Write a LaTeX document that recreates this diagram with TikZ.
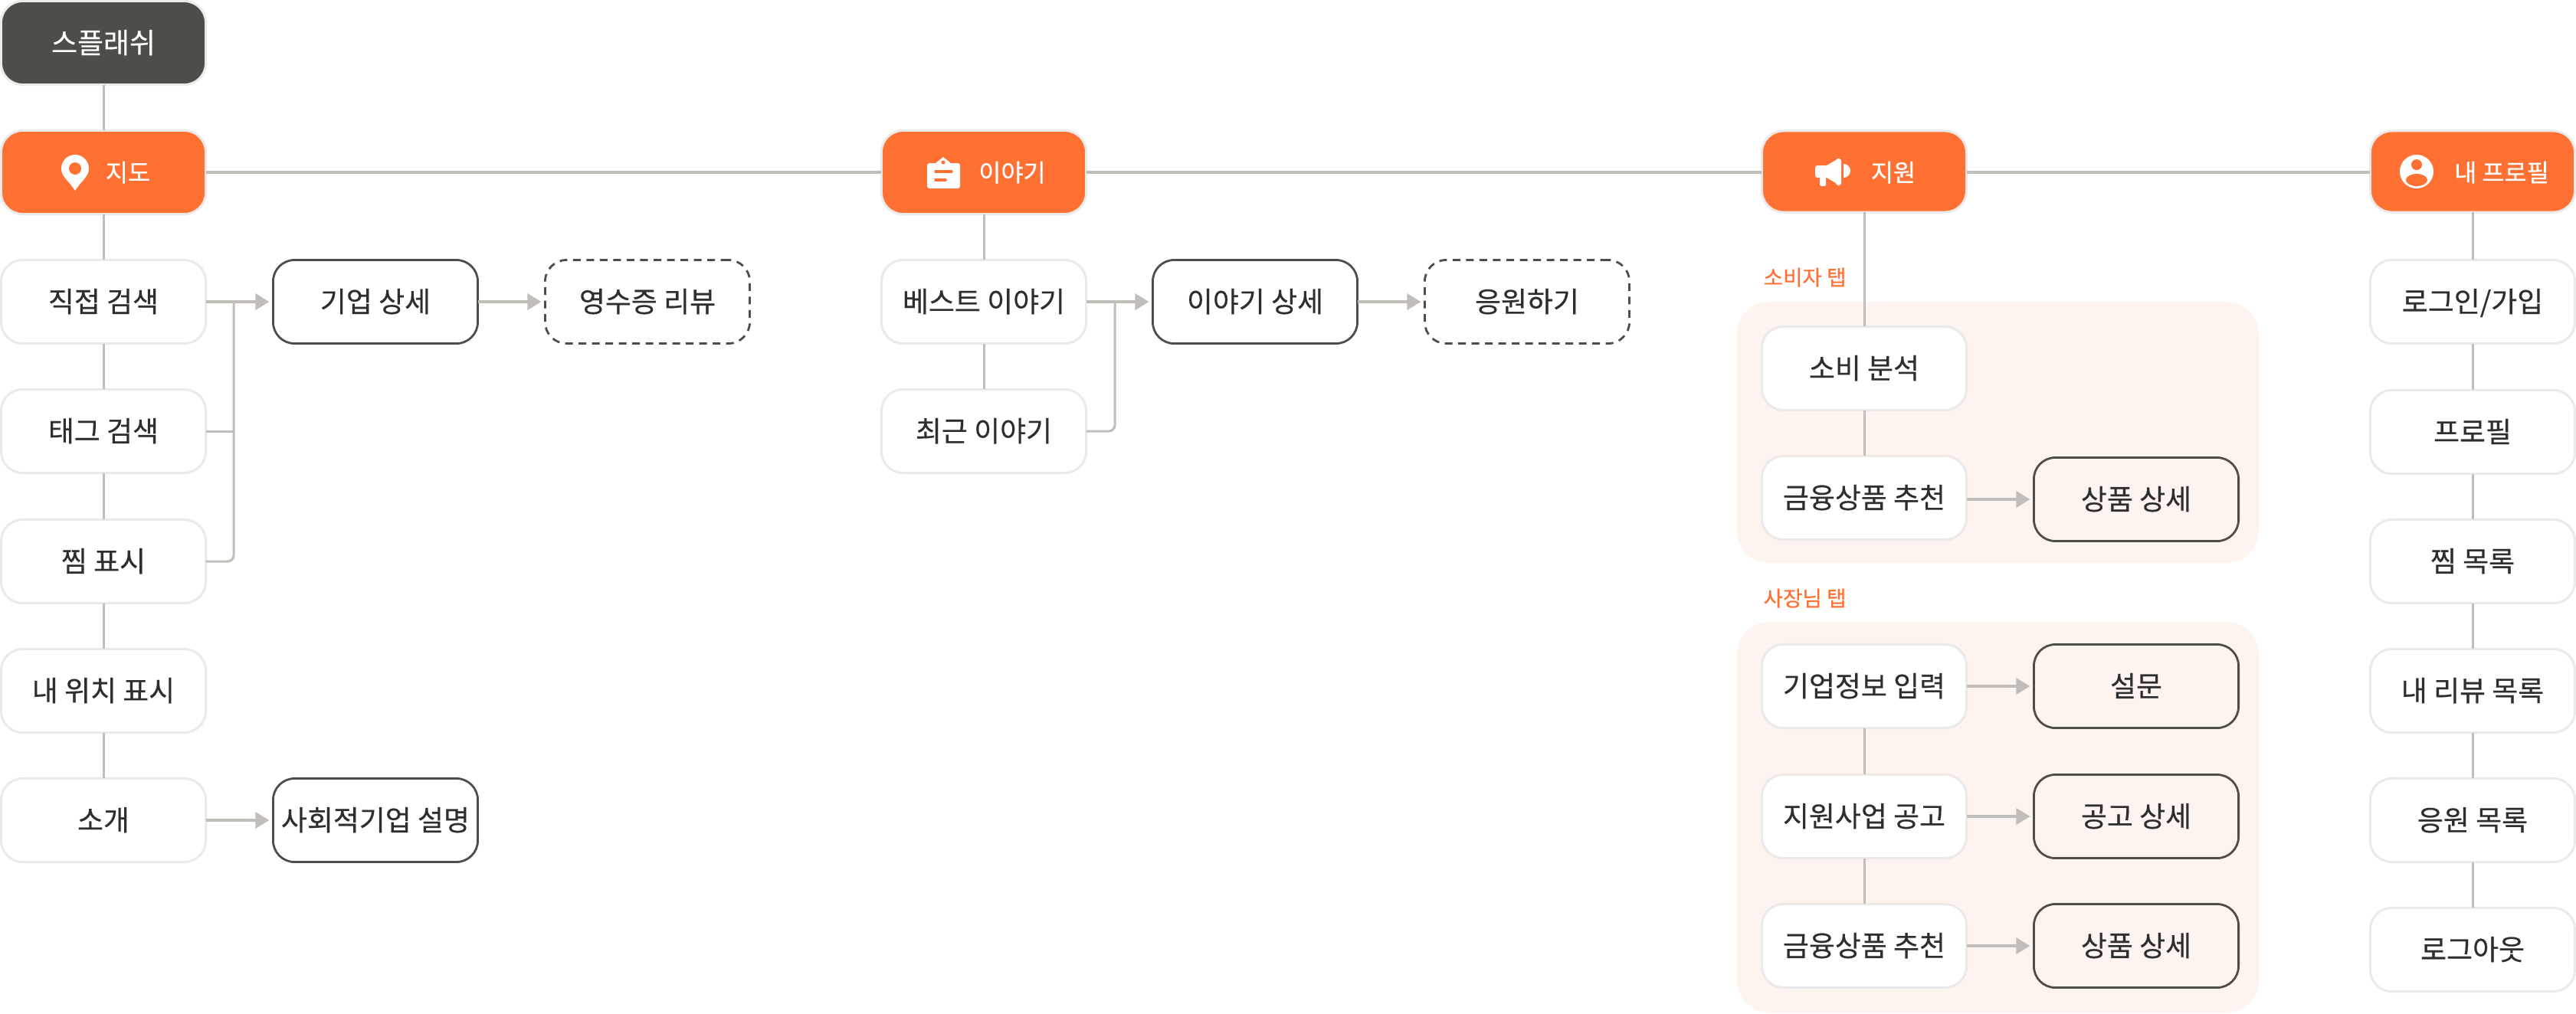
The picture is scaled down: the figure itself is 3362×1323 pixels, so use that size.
\documentclass[tikz,border=0pt]{standalone}
\usepackage{fontspec}
\usepackage{xcolor}
\usetikzlibrary{arrows.meta}
\setmainfont{Noto Sans CJK KR}[FakeBold=0.4]
\newfontfamily\headfont{Noto Sans CJK KR}[FakeBold=0.6]
\definecolor{brandorange}{HTML}{FF7033}
\definecolor{splashgray}{HTML}{4E4D48}
\definecolor{linegray}{HTML}{C1BDB8}
\definecolor{edgegray}{HTML}{ECEAE8}
\definecolor{inkgray}{HTML}{2E2E2E}
\definecolor{panelpeach}{HTML}{FEF4EF}
\tikzset{
  box/.style={rounded corners=0.28cm, minimum width=2.67cm, minimum height=1.09cm, inner sep=0pt, outer sep=0pt,
    text=inkgray, text height=0.30cm, text depth=0.03cm, font=\fontsize{10.5pt}{12pt}\selectfont},
  plain/.style={box, draw=edgegray, fill=white, line width=0.03cm},
  detail/.style={box, draw=splashgray, fill=white, line width=0.028cm},
  detailpeach/.style={detail, fill=panelpeach},
  later/.style={detail, dash pattern=on 0.10cm off 0.075cm},
  head/.style={plain, fill=brandorange},
  headtext/.style={text=white, inner sep=0pt, text height=0.25cm, text depth=0.03cm, font=\headfont\fontsize{9pt}{10pt}\selectfont},
  tablabel/.style={text=brandorange, inner sep=0pt, anchor=west, text height=0.23cm, text depth=0.02cm, font=\fontsize{7.85pt}{9pt}\selectfont},
  link/.style={draw=linegray, line width=0.03cm},
  trunk/.style={draw=linegray, line width=0.037cm},
  go/.style={trunk, -{Triangle[length=0.18cm,width=0.21cm]}, shorten >=0.05cm},
}
\begin{document}
\begin{tikzpicture}[x=0.01cm, y=-0.01cm]
  \useasboundingbox (0,0) rectangle (3362,1323);
  % Tab panels
  \fill[panelpeach,rounded corners=0.42cm] (2267,394) rectangle (2948,735);
  \fill[panelpeach,rounded corners=0.42cm] (2267,812) rectangle (2948,1322);
  % Map column
  \node[plain,fill=splashgray,text=white] (splash) at (135,56) {스플래쉬};
  \node[head] (map) at (135,225) {};
  \node[plain] (direct) at (135,394) {직접 검색};
  \node[plain] (tagsearch) at (135,563) {태그 검색};
  \node[plain] (pin) at (135,733) {찜 표시};
  \node[plain] (mypos) at (135,902) {내 위치 표시};
  \node[plain] (intro) at (135,1071) {소개};
  \node[detail] (company) at (490,394) {기업 상세};
  \node[later] (receipt) at (845,394) {영수증 리뷰};
  \node[detail] (social) at (490,1071) {사회적기업 설명};
  \coordinate (maphub) at (305,394);
  % Story column
  \node[head] (story) at (1284,225) {};
  \node[plain] (best) at (1284,394) {베스트 이야기};
  \node[plain] (recent) at (1284,563) {최근 이야기};
  \node[detail] (storydetail) at (1638,394) {이야기 상세};
  \node[later] (cheer) at (1993,394) {응원하기};
  \coordinate (storyhub) at (1455,394);
  % Support column
  \node[head,minimum height=1.06cm] (support) at (2433,224) {};
  \node[tablabel] (consumertab) at (2301,362) {소비자 탭};
  \node[plain] (analysis) at (2433,481) {소비 분석};
  \node[plain] (finone) at (2433,650) {금융상품 추천};
  \node[detailpeach] (prodone) at (2788,652) {상품 상세};
  \node[tablabel] (ownertab) at (2301,781) {사장님 탭};
  \node[plain] (bizinfo) at (2433,896) {기업정보 입력};
  \node[detailpeach] (survey) at (2788,896) {설문};
  \node[plain] (notice) at (2433,1066) {지원사업 공고};
  \node[detailpeach] (noticedetail) at (2788,1066) {공고 상세};
  \node[plain] (fintwo) at (2433,1235) {금융상품 추천};
  \node[detailpeach] (prodtwo) at (2788,1235) {상품 상세};
  % Profile column
  \node[head,minimum height=1.06cm] (profile) at (3227,224) {};
  \node[plain] (login) at (3227,394) {로그인/가입};
  \node[plain] (myprofile) at (3227,564) {프로필};
  \node[plain] (pinlist) at (3227,733) {찜 목록};
  \node[plain] (reviewlist) at (3227,902) {내 리뷰 목록};
  \node[plain] (cheerlist) at (3227,1071) {응원 목록};
  \node[plain] (logout) at (3227,1240) {로그아웃};
  % Header labels
  \node[headtext] (maplabel) at (167,226) {지도};
  \node[headtext] (storylabel) at (1321,226) {이야기};
  \node[headtext] (supportlabel) at (2471,226) {지원};
  \node[headtext] (profilelabel) at (3265,226) {내 프로필};
  % Header icons
  \fill[white] (98,249) .. controls (90,236) and (80,231) .. (80,220) arc[start angle=180,end angle=360,radius=18] .. controls (116,231) and (106,236) .. (98,249) -- cycle;
  \fill[brandorange] (98,220) circle (8);
  \fill[white,rounded corners=0.03cm] (1210,213) rectangle (1253,246);
  \fill[white] (1220,214) -- (1231,205) -- (1242,214) -- cycle;
  \fill[brandorange] (1231,212) circle (2.5);
  \draw[brandorange,line width=0.035cm,line cap=round] (1221,224) -- (1242,224);
  \draw[brandorange,line width=0.035cm,line cap=round] (1221,235) -- (1234,235);
  \fill[white,rounded corners=0.03cm] (2369,216) rectangle (2386,232);
  \fill[white] (2384,216) -- (2396,209) -- (2396,239) -- (2384,232) -- cycle;
  \fill[white,rounded corners=0.03cm] (2396,207) rectangle (2403,242);
  \fill[white,rounded corners=0.015cm] (2375,230) rectangle (2383,243);
  \fill[white] (2406,214) arc[start angle=-90,end angle=90,radius=9] -- cycle;
  \fill[white] (3154,224) circle (22);
  \fill[brandorange] (3154,215) circle (7);
  \fill[brandorange] (3154,235) ellipse (14 and 8);
  % Vertical links
  \draw[link] (splash) -- (map);
  \draw[link] (map) -- (direct);
  \draw[link] (direct) -- (tagsearch);
  \draw[link] (tagsearch) -- (pin);
  \draw[link] (pin) -- (mypos);
  \draw[link] (mypos) -- (intro);
  \draw[link] (story) -- (best);
  \draw[link] (best) -- (recent);
  \draw[link] (support) -- (analysis);
  \draw[link] (analysis) -- (finone);
  \draw[link] (bizinfo) -- (notice);
  \draw[link] (notice) -- (fintwo);
  \draw[link] (profile) -- (login);
  \draw[link] (login) -- (myprofile);
  \draw[link] (myprofile) -- (pinlist);
  \draw[link] (pinlist) -- (reviewlist);
  \draw[link] (reviewlist) -- (cheerlist);
  \draw[link] (cheerlist) -- (logout);
  % Top bar
  \draw[trunk] (map.east |- 0,225) -- (story.west |- 0,225);
  \draw[trunk] (story.east |- 0,225) -- (support.west |- 0,225);
  \draw[trunk] (support.east |- 0,225) -- (profile.west |- 0,225);
  % Arrows
  \draw[go] (direct) -- (company);
  \draw[go] (company) -- (receipt);
  \draw[go] (intro) -- (social);
  \draw[go] (best) -- (storydetail);
  \draw[go] (storydetail) -- (cheer);
  \draw[go] (finone.east |- prodone.west) -- (prodone.west);
  \draw[go] (bizinfo) -- (survey);
  \draw[go,yshift=0.02cm] (notice) -- (noticedetail);
  \draw[go] (fintwo) -- (prodtwo);
  % Merging lines
  \draw[link] (tagsearch.east) -- (tagsearch.east -| maphub);
  \draw[link,rounded corners=0.08cm] (pin.east) -| (maphub);
  \draw[link,rounded corners=0.08cm] (recent.east) -| (storyhub);
\end{tikzpicture}
\end{document}
